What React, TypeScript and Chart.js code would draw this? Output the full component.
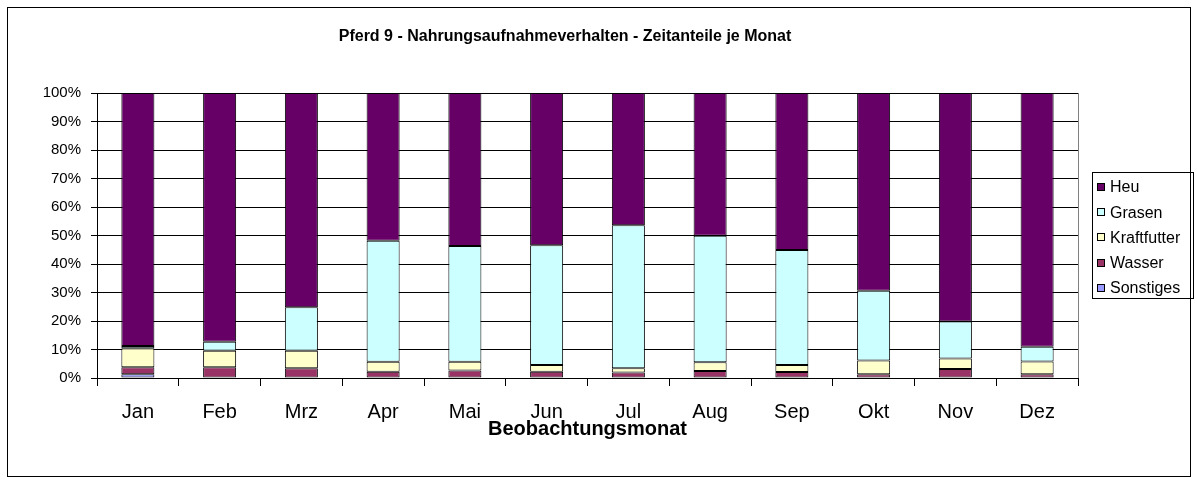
import React, { useEffect, useRef } from "react";
import { Chart, registerables } from "chart.js";

Chart.register(...registerables);

const months = ["Jan", "Feb", "Mrz", "Apr", "Mai", "Jun", "Jul", "Aug", "Sep", "Okt", "Nov", "Dez"];
const sonstiges = [1.3, 0, 0, 0, 0, 0, 0, 0, 0, 0, 0, 0];
const wasser = [2.45, 3.75, 3.4, 2.2, 2.6, 2.2, 1.9, 2.45, 2.1, 1.3, 3.2, 1.3];
const kraftfutter = [6.65, 5.85, 6.2, 3.5, 3.1, 2.4, 1.5, 3.05, 2.5, 4.8, 3.6, 4.5];
const grasen = [0.8, 3.1, 15.2, 42.5, 40.6, 42.0, 50.2, 44.4, 40.3, 24.5, 13.0, 5.2];
const heu = [88.8, 87.3, 75.2, 51.8, 53.7, 53.4, 46.4, 50.1, 55.1, 69.4, 80.2, 89.0];
const yTicks = [0, 10, 20, 30, 40, 50, 60, 70, 80, 90, 100];

const titleText = "Pferd 9 - Nahrungsaufnahmeverhalten - Zeitanteile je Monat";
const xTitle = "Beobachtungsmonat";
const FONT = '"Liberation Sans", Arial, sans-serif';

const seriesDefs = [
  { label: "Sonstiges", data: sonstiges, color: "#9999FF" },
  { label: "Wasser", data: wasser, color: "#993366" },
  { label: "Kraftfutter", data: kraftfutter, color: "#FFFFCC" },
  { label: "Grasen", data: grasen, color: "#CCFFFF" },
  { label: "Heu", data: heu, color: "#660066" },
];

const titlePlugin = {
  id: "customTitle",
  afterDraw(chart: any) {
    const ctx = chart.ctx;
    ctx.save();
    ctx.fillStyle = "#000";
    ctx.font = `bold 16px ${FONT}`;
    ctx.textAlign = "center";
    ctx.textBaseline = "middle";
    ctx.fillText(titleText, 565, 37);
    ctx.restore();
  },
};

const legendPlugin = {
  id: "customLegend",
  afterDraw(chart: any) {
    const ctx = chart.ctx;
    ctx.save();
    ctx.strokeStyle = "#000";
    ctx.lineWidth = 1;
    ctx.strokeRect(1092.5, 172.5, 101, 126);
    const items = [...chart.data.datasets].reverse();
    items.forEach((ds: any, i: number) => {
      const cy = 187 + i * 25.2;
      ctx.fillStyle = ds.backgroundColor;
      ctx.fillRect(1097, Math.round(cy - 4), 8, 8);
      ctx.strokeStyle = "#000";
      ctx.strokeRect(1097.5, Math.round(cy - 4) + 0.5, 7, 7);
      ctx.fillStyle = "#000";
      ctx.font = `16px ${FONT}`;
      ctx.textAlign = "left";
      ctx.textBaseline = "middle";
      ctx.fillText(ds.label, 1110, cy + 1);
    });
    ctx.restore();
  },
};

const plotBorderPlugin = {
  id: "plotBorder",
  beforeDatasetsDraw(chart: any) {
    const { ctx, chartArea } = chart;
    ctx.save();
    ctx.strokeStyle = "#808080";
    ctx.lineWidth = 1;
    ctx.beginPath();
    ctx.moveTo(Math.round(chartArea.right) + 0.5, chartArea.top);
    ctx.lineTo(Math.round(chartArea.right) + 0.5, chartArea.bottom);
    ctx.stroke();
    ctx.restore();
  },
};

export default function App() {
  const canvasRef = useRef<HTMLCanvasElement | null>(null);

  useEffect(() => {
    if (!canvasRef.current) return;
    const chart = new Chart(canvasRef.current, {
      type: "bar",
      data: {
        labels: months,
        datasets: seriesDefs.map((s) => ({
          label: s.label,
          data: s.data,
          backgroundColor: s.color,
          borderColor: "#000",
          borderWidth: 1,
          borderSkipped: false,
          categoryPercentage: 1,
          barPercentage: 0.404,
        })),
      },
      options: {
        animation: false,
        responsive: false,
        maintainAspectRatio: false,
        devicePixelRatio: 1,
        layout: { padding: { top: 93, right: 119, left: 0, bottom: 0 } },
        plugins: {
          legend: { display: false },
          title: { display: false },
          tooltip: { enabled: false },
        },
        scales: {
          x: {
            stacked: true,
            afterFit(scale: any) {
              scale.height = 105;
            },
            grid: {
              display: true,
              drawOnChartArea: false,
              drawTicks: true,
              tickLength: 8,
              offset: true,
              color: "#000",
              lineWidth: 1,
            },
            border: { display: true, color: "#000", width: 1 },
            ticks: {
              color: "#000",
              font: { family: FONT, size: 20 },
              padding: 14,
              maxRotation: 0,
              autoSkip: false,
            },
            title: {
              display: true,
              text: xTitle,
              color: "#000",
              font: { family: FONT, size: 20, weight: "bold" },
              padding: { top: 0, bottom: 42 },
            },
          },
          y: {
            stacked: true,
            min: 0,
            max: 100,
            afterFit(scale: any) {
              scale.width = 97;
            },
            afterBuildTicks(scale: any) {
              scale.ticks = yTicks.map((v) => ({ value: v }));
            },
            grid: {
              color: "#000",
              lineWidth: 1,
              tickLength: 6,
              drawTicks: true,
            },
            border: { display: true, color: "#000", width: 1 },
            ticks: {
              color: "#000",
              font: { family: FONT, size: 15 },
              padding: 10,
              callback: (v: any) => `${v}%`,
            },
          },
        },
      },
      plugins: [titlePlugin, legendPlugin, plotBorderPlugin],
    });
    return () => chart.destroy();
  }, []);

  return (
    <div style={{ position: "absolute", left: 0, top: 0, width: 1197, height: 483, background: "#fff" }}>
      <canvas ref={canvasRef} width={1197} height={483} style={{ display: "block", width: 1197, height: 483 }} />
      <div
        style={{
          position: "absolute",
          left: 7,
          top: 7,
          width: 1184,
          height: 470,
          boxSizing: "border-box",
          border: "1px solid #000",
          pointerEvents: "none",
        }}
      />
    </div>
  );
}
